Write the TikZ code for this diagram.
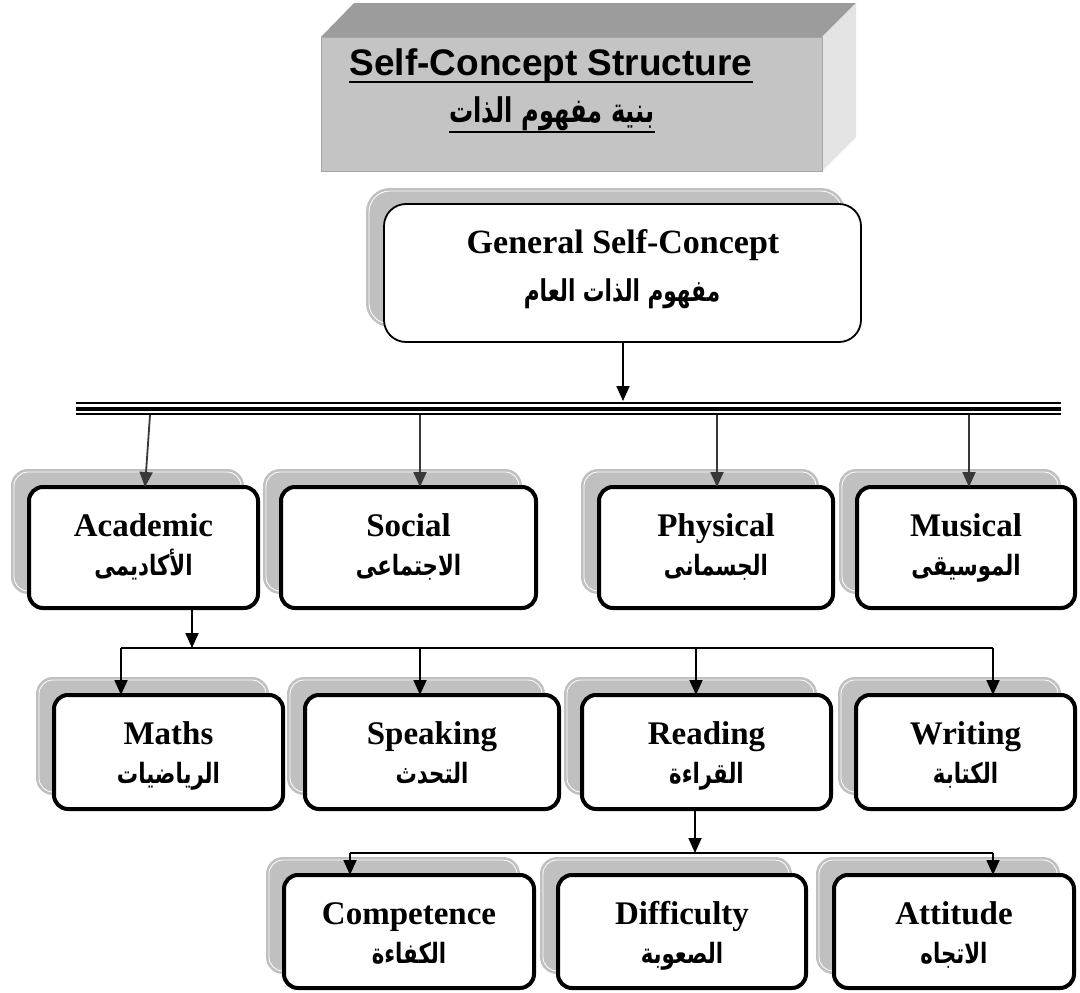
\documentclass[tikz,border=0pt]{standalone}
\usepackage{graphicx}
\usepackage{fontspec}
\setmainfont{Liberation Serif}
\newfontfamily\sansb{Liberation Sans}
\newfontfamily\arabicfont[Script=Arabic]{DejaVu Sans}
\TeXXeTstate=1
\usetikzlibrary{arrows.meta}
\definecolor{shadowgray}{HTML}{C0C0C0}
\definecolor{frontgray}{HTML}{C4C4C4}
\definecolor{topgray}{HTML}{9C9C9C}
\definecolor{sidegray}{HTML}{E4E4E4}
\definecolor{arrgray}{HTML}{383838}
\tikzset{
  lbox/.style={draw=black, fill=white, line width=4pt, rounded corners=14pt, inner sep=0pt, outer sep=0pt},
  gbox/.style={draw=black, fill=white, line width=1.8pt, rounded corners=22pt, inner sep=0pt, outer sep=0pt},
  etext/.style={anchor=base, inner sep=0pt, font=\bfseries\fontsize{33}{36}\selectfont},
  atext/.style={anchor=base, inner sep=0pt, font=\arabicfont\bfseries\fontsize{28}{32}\selectfont},
  arr/.style={line width=1.8pt, -{Triangle[length=15pt,width=13pt]}},
  arrtwo/.style={arr, draw=arrgray, color=arrgray},
  barline/.style={line width=1.5pt},
}
\newcommand\lvbox[7]{%
  \fill[shadowgray, rounded corners=17pt] ({#2-16},{#3-16}) rectangle ({#4-16},{#5-16});
  \draw[white, line width=0.8pt, rounded corners=14pt] ({#2-13},{#3-13}) rectangle ({#4-19},{#5-19});
  \node[lbox, minimum width={#4-#2-4}, minimum height={#5-#3-4}] (#1) at ({(#2+#4)/2},{(#3+#5)/2}) {};
  \node[etext] (#1-en) at ({(#2+#4)/2},{#3+51}) {#6};
  \node[atext] (#1-ar) at ({(#2+#4)/2},{#3+90}) {\scalebox{0.76}[1]{\beginR #7\endR}};
}
\begin{document}
\begin{tikzpicture}[x=1pt, y=-1pt]
\useasboundingbox (0,0) rectangle (1080,993);
% ---- title block (3D box)
\fill[topgray] (321,37) -- (354,3) -- (856,3) -- (822,37) -- cycle;
\fill[sidegray] (822,37) -- (856,3) -- (856,137) -- (822,171) -- cycle;
\fill[frontgray] (321,37) rectangle (822,171);
\draw[gray!70, line width=0.6pt] (321,37) rectangle (822,171);
\node[anchor=base, inner sep=0pt, font=\sansb\bfseries\fontsize{37}{42}\selectfont] (ttl) at (551,75) {Self-Concept Structure};
\draw[line width=2.5pt] ([yshift=-7pt]ttl.base west) -- ([yshift=-7pt]ttl.base east);
\node[anchor=base, inner sep=0pt, font=\arabicfont\bfseries\fontsize{34}{38}\selectfont] (ttlar) at (552,122) {\scalebox{0.71}[1]{\beginR بنية مفهوم الذات\endR}};
\draw[line width=2.2pt] ([yshift=-10pt]ttlar.base west) -- ([yshift=-10pt]ttlar.base east);
% ---- general box
\fill[shadowgray, rounded corners=24pt] (366,188) rectangle (845,327);
\draw[white, line width=0.8pt, rounded corners=21pt] (369,191) rectangle (842,324);
\node[gbox, minimum width=477, minimum height=138] (gen) at (622.5,273) {};
\node[anchor=base, inner sep=0pt, font=\bfseries\fontsize{34}{38}\selectfont] (gen-en) at (623,253) {General Self-Concept};
\node[atext, font=\arabicfont\bfseries\fontsize{30}{34}\selectfont] (gen-ar) at (622,301) {\scalebox{0.72}[1]{\beginR مفهوم الذات العام\endR}};
% ---- triple bus line
\coordinate (busL) at (76,409);
\coordinate (busR) at (1061,409);
\draw[line width=2.3pt] ([yshift=6pt]busL) -- ([yshift=6pt]busR);
\draw[line width=4pt] (busL) -- (busR);
\draw[line width=2.3pt] ([yshift=-5pt]busL) -- ([yshift=-5pt]busR);
\coordinate (g1) at (623,401);
\draw[arr] (gen.south -| g1) -- (g1);
% ---- level 2
\lvbox{acad}{27}{485}{260}{610}{Academic}{الأكاديمى}
\lvbox{soc}{279}{485}{538}{610}{Social}{الاجتماعى}
\lvbox{phys}{597}{485}{835}{610}{Physical}{الجسمانى}
\lvbox{mus}{855}{485}{1077}{610}{Musical}{الموسيقى}
\coordinate (b1) at (150,415);
\coordinate (e1) at (145,0);
\coordinate (b2) at (420,415);
\coordinate (b3) at (717,415);
\coordinate (b4) at (969,415);
\draw[arrtwo] (b1) -- (acad.north -| e1);
\draw[arrtwo] (b2) -- (soc.north -| b2);
\draw[arrtwo] (b3) -- (phys.north -| b3);
\draw[arrtwo] (b4) -- (mus.north -| b4);
% ---- level 3
\lvbox{maths}{52}{693}{285}{811}{Maths}{الرياضيات}
\lvbox{speak}{303}{693}{561}{811}{Speaking}{التحدث}
\lvbox{read}{580}{693}{833}{811}{Reading}{القراءة}
\lvbox{writ}{854}{693}{1077}{811}{Writing}{الكتابة}
\coordinate (c0) at (192,648);
\coordinate (c1) at (121,648);
\coordinate (c2) at (420,648);
\coordinate (c3) at (696,648);
\coordinate (c4) at (993,648);
\draw[arr] (acad.south -| c0) -- (c0);
\draw[barline] (c1) -- (c4);
\draw[arr] (c1) -- (maths.north -| c1);
\draw[arr] (c2) -- (speak.north -| c2);
\draw[arr] (c3) -- (read.north -| c3);
\draw[arr] (c4) -- (writ.north -| c4);
% ---- level 4
\lvbox{comp}{282}{873}{536}{990}{Competence}{الكفاءة}
\lvbox{diff}{556}{873}{808}{990}{Difficulty}{الصعوبة}
\lvbox{att}{832}{873}{1076}{990}{Attitude}{الاتجاه}
\coordinate (d0) at (695,853);
\coordinate (d1) at (350,853);
\coordinate (d3) at (993,853);
\draw[arr] (read.south -| d0) -- (d0);
\draw[barline] (d1) -- (d3);
\draw[arr] (d1) -- (comp.north -| d1);
\draw[arr] (d3) -- (att.north -| d3);
\end{tikzpicture}
\end{document}
